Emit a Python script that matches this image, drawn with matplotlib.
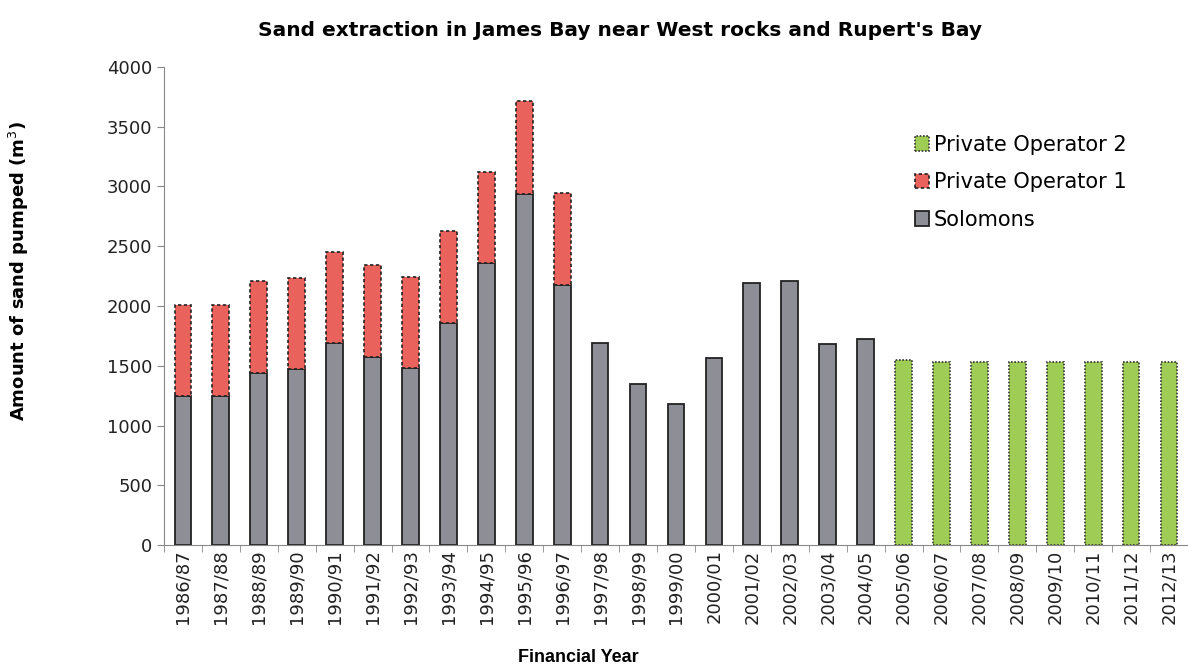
import numpy as np
import matplotlib.pyplot as plt
from matplotlib.patches import Patch

years = ["1986/87", "1987/88", "1988/89", "1989/90", "1990/91", "1991/92", "1992/93",
         "1993/94", "1994/95", "1995/96", "1996/97", "1997/98", "1998/99", "1999/00",
         "2000/01", "2001/02", "2002/03", "2003/04", "2004/05", "2005/06", "2006/07",
         "2007/08", "2008/09", "2009/10", "2010/11", "2011/12", "2012/13"]

solomons = [1250, 1250, 1440, 1475, 1690, 1575, 1485, 1860, 2360, 2940, 2175,
            1690, 1350, 1180, 1565, 2195, 2205, 1680, 1720,
            0, 0, 0, 0, 0, 0, 0, 0]
operator1 = [755, 760, 765, 760, 760, 770, 760, 765, 760, 775, 770,
             0, 0, 0, 0, 0, 0, 0, 0,
             0, 0, 0, 0, 0, 0, 0, 0]
operator2 = [0] * 19 + [1545, 1530, 1530, 1530, 1530, 1530, 1530, 1530]

plt.rcParams['font.family'] = ['DejaVu Sans']

fig = plt.figure(figsize=(11.88, 6.68), dpi=100)
ax = fig.add_axes([0.138, 0.184, 0.862, 0.716])

x = np.arange(len(years))
w = 0.44
grey = "#8e8f96"
red = "#e9625b"
green = "#9fcc55"
sol_style = dict(facecolor=grey, edgecolor="#222222", linewidth=1.3)
op1_style = dict(facecolor=red, edgecolor="#222222", linewidth=1.2, linestyle=(0, (2, 1.5)))
op2_style = dict(facecolor=green, edgecolor="#333333", linewidth=1.2, linestyle=(0, (1, 1)))

b1 = ax.bar(x, solomons, w, **sol_style)
b2 = ax.bar(x, operator1, w, bottom=solomons, **op1_style)
b3 = ax.bar(x, operator2, w, **op2_style)

# zero-height bars would leave edge lines on the axis
for bars, vals in ((b1, solomons), (b2, operator1), (b3, operator2)):
    for r, v in zip(bars, vals):
        if v == 0:
            r.set_visible(False)

ax.set_xlim(-0.5, len(years) - 0.5)
ax.set_ylim(0, 4000)
ax.set_yticks(range(0, 4001, 500))
ax.set_xticks(x)
ax.set_xticklabels(years, rotation=90, fontsize=13, color="#222222")
ax.set_xticks(np.arange(-0.5, len(years), 1), minor=True)
ax.tick_params(axis="x", which="major", length=0, pad=3)
ax.tick_params(axis="x", which="minor", length=5, color="#888888", direction="out")
ax.tick_params(axis="y", labelsize=13, length=5, color="#888888", labelcolor="#222222")

for s in ("top", "right"):
    ax.spines[s].set_visible(False)
ax.spines["left"].set_color("#888888")
ax.spines["bottom"].set_color("#888888")

fig.text(0.522, 0.955, "Sand extraction in James Bay near West rocks and Rupert's Bay",
         fontsize=14.5, fontweight="bold", ha="center", va="center")
fig.text(0.487, 0.016, "Financial Year", fontsize=13, fontweight="bold",
         family="Liberation Sans", ha="center", va="center")
fig.text(0.016, 0.595, "Amount of sand pumped (m$^3$)", fontsize=13, fontweight="bold",
         rotation=90, ha="center", va="center")

handles = [Patch(label="Private Operator 2", **op2_style),
           Patch(label="Private Operator 1", **op1_style),
           Patch(label="Solomons", **sol_style)]
fig.legend(handles=handles, loc="upper left", bbox_to_anchor=(0.770, 0.798),
           frameon=False, fontsize=15, handlelength=0.7, handleheight=0.7,
           handletextpad=0.2, labelspacing=0.83, borderaxespad=0, borderpad=0)

fig.savefig("out.png", dpi=100)
